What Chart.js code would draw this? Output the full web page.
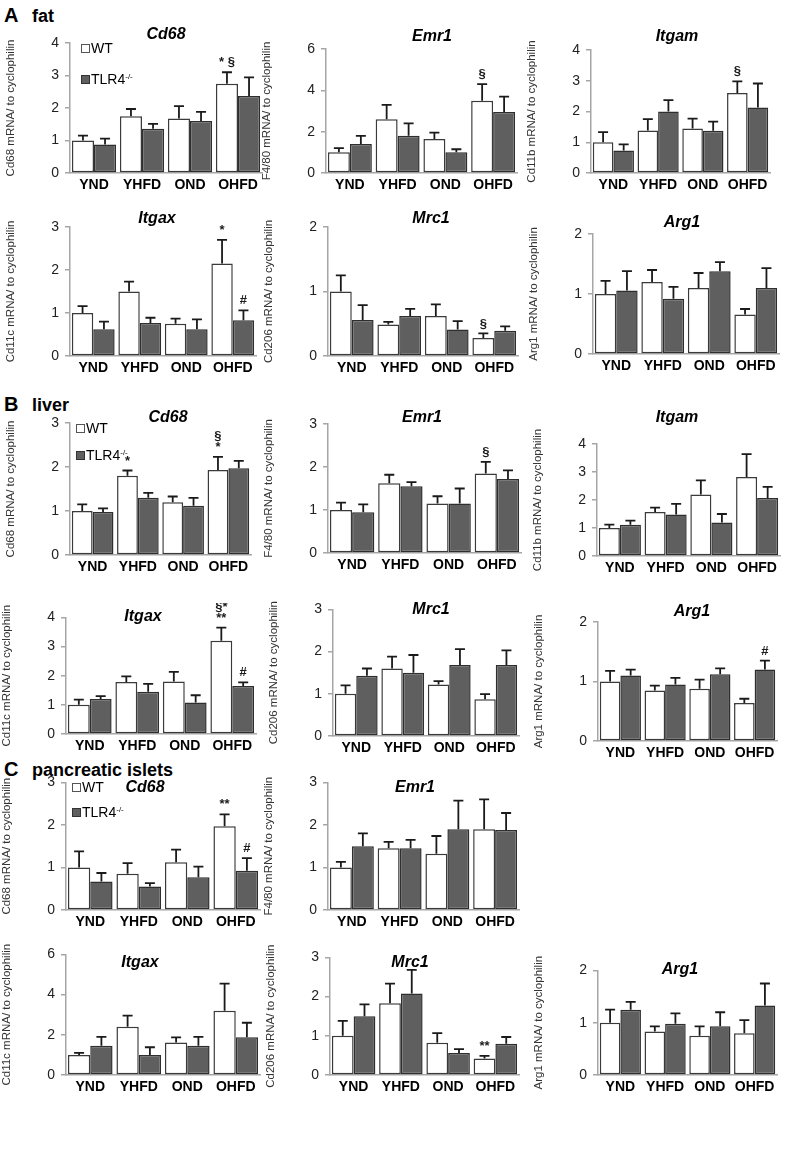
<!DOCTYPE html>
<html>
<head>
<meta charset="utf-8">
<script src="https://cdn.jsdelivr.net/npm/chart.js@4.4.1/dist/chart.umd.min.js"></script>
<style>
  body { margin: 0; background: #fff; width: 794px; height: 1150px; position: relative; overflow: hidden;
         font-family: "Liberation Sans", Arial, sans-serif; }
  canvas { position: absolute; }
  .sec { position: absolute; font-weight: bold; font-size: 18px; color: #000; }
  .sec b { display: inline-block; width: 28px; font-size: 20px; }
  .leg { position: absolute; font-size: 14px; color: #000; line-height: 14px; white-space: nowrap; }
  .leg i { display: inline-block; width: 7px; height: 7px; border: 1px solid #555; margin-right: 1px; }
  .leg sup { font-size: 8px; vertical-align: 5px; }
</style>
</head>
<body>

<div class="sec" style="left:4px;top:4px"><b>A</b>fat</div>
<div class="sec" style="left:4px;top:393px"><b>B</b>liver</div>
<div class="sec" style="left:4px;top:758px"><b>C</b>pancreatic islets</div>

<script>
const groups = ["YND", "YHFD", "OND", "OHFD"];

// A fat
const fatCd68WT = [1.0, 1.75, 1.68, 2.75];
const fatCd68KO = [0.88, 1.36, 1.6, 2.37];
const fatCd68WTErr = [0.15, 0.22, 0.38, 0.35];
const fatCd68KOErr = [0.18, 0.15, 0.28, 0.57];
const fatCd68WTSig = ["", "", "", "* §"];

const fatEmr1WT = [1.0, 2.6, 1.65, 3.5];
const fatEmr1KO = [1.4, 1.8, 1.0, 2.95];
const fatEmr1WTErr = [0.2, 0.7, 0.3, 0.8];
const fatEmr1KOErr = [0.4, 0.6, 0.15, 0.75];
const fatEmr1WTSig = ["", "", "", "§"];

const fatItgamWT = [1.0, 1.38, 1.45, 2.6];
const fatItgamKO = [0.73, 2.0, 1.37, 2.13];
const fatItgamWTErr = [0.33, 0.37, 0.32, 0.38];
const fatItgamKOErr = [0.2, 0.37, 0.3, 0.78];
const fatItgamWTSig = ["", "", "", "§"];

const fatItgaxWT = [1.0, 1.5, 0.75, 2.15];
const fatItgaxKO = [0.62, 0.77, 0.62, 0.83];
const fatItgaxWTErr = [0.16, 0.23, 0.12, 0.55];
const fatItgaxKOErr = [0.18, 0.12, 0.23, 0.23];
const fatItgaxWTSig = ["", "", "", "*"];
const fatItgaxKOSig = ["", "", "", "#"];

const fatMrc1WT = [1.0, 0.49, 0.62, 0.28];
const fatMrc1KO = [0.56, 0.62, 0.41, 0.39];
const fatMrc1WTErr = [0.25, 0.04, 0.18, 0.07];
const fatMrc1KOErr = [0.23, 0.11, 0.13, 0.07];
const fatMrc1WTSig = ["", "", "", "§"];

const fatArg1WT = [1.0, 1.2, 1.1, 0.66];
const fatArg1KO = [1.06, 0.92, 1.38, 1.1];
const fatArg1WTErr = [0.22, 0.2, 0.25, 0.09];
const fatArg1KOErr = [0.32, 0.2, 0.15, 0.33];

// B liver
const livCd68WT = [1.0, 1.8, 1.2, 1.93];
const livCd68KO = [0.98, 1.3, 1.12, 1.97];
const livCd68WTErr = [0.15, 0.12, 0.13, 0.3];
const livCd68KOErr = [0.08, 0.11, 0.18, 0.17];
const livCd68WTSig = ["", "*", "", "§\n*"];

const livEmr1WT = [1.0, 1.62, 1.15, 1.85];
const livEmr1KO = [0.95, 1.55, 1.15, 1.72];
const livEmr1WTErr = [0.17, 0.2, 0.17, 0.27];
const livEmr1KOErr = [0.18, 0.1, 0.35, 0.2];
const livEmr1WTSig = ["", "", "", "§"];

const livItgamWT = [1.0, 1.57, 2.2, 2.82];
const livItgamKO = [1.12, 1.48, 1.2, 2.07];
const livItgamWTErr = [0.12, 0.16, 0.5, 0.82];
const livItgamKOErr = [0.14, 0.38, 0.3, 0.4];

const livItgaxWT = [1.0, 1.78, 1.8, 3.2];
const livItgaxKO = [1.2, 1.45, 1.08, 1.65];
const livItgaxWTErr = [0.18, 0.2, 0.33, 0.45];
const livItgaxKOErr = [0.1, 0.27, 0.25, 0.12];
const livItgaxWTSig = ["", "", "", "§*\n**"];
const livItgaxKOSig = ["", "", "", "#"];

const livMrc1WT = [1.0, 1.6, 1.22, 0.87];
const livMrc1KO = [1.43, 1.5, 1.68, 1.68];
const livMrc1WTErr = [0.2, 0.28, 0.08, 0.12];
const livMrc1KOErr = [0.17, 0.42, 0.38, 0.35];

const livArg1WT = [1.0, 0.85, 0.88, 0.64];
const livArg1KO = [1.1, 0.95, 1.12, 1.2];
const livArg1WTErr = [0.18, 0.08, 0.15, 0.07];
const livArg1KOErr = [0.1, 0.11, 0.1, 0.15];
const livArg1KOSig = ["", "", "", "#"];

// C pancreatic islets
const islCd68WT = [1.0, 0.85, 1.12, 1.97];
const islCd68KO = [0.67, 0.55, 0.77, 0.92];
const islCd68WTErr = [0.38, 0.25, 0.3, 0.28];
const islCd68KOErr = [0.2, 0.08, 0.25, 0.3];
const islCd68WTSig = ["", "", "", "**"];
const islCd68KOSig = ["", "", "", "#"];

const islEmr1WT = [1.0, 1.45, 1.32, 1.9];
const islEmr1KO = [1.5, 1.45, 1.9, 1.88];
const islEmr1WTErr = [0.13, 0.15, 0.42, 0.7];
const islEmr1KOErr = [0.3, 0.2, 0.67, 0.4];

const islItgaxWT = [1.0, 2.4, 1.62, 3.2];
const islItgaxKO = [1.45, 1.0, 1.45, 1.88];
const islItgaxWTErr = [0.1, 0.55, 0.25, 1.35];
const islItgaxKOErr = [0.45, 0.38, 0.45, 0.72];

const islMrc1WT = [1.0, 1.83, 0.82, 0.42];
const islMrc1KO = [1.5, 2.08, 0.56, 0.8];
const islMrc1WTErr = [0.38, 0.5, 0.25, 0.07];
const islMrc1KOErr = [0.3, 0.6, 0.1, 0.17];
const islMrc1WTSig = ["", "", "", "**"];

const islArg1WT = [1.0, 0.83, 0.75, 0.8];
const islArg1KO = [1.25, 0.98, 0.93, 1.33];
const islArg1WTErr = [0.25, 0.1, 0.18, 0.25];
const islArg1KOErr = [0.15, 0.2, 0.27, 0.42];

const none = ["", "", "", ""];

// layout: axis x, right end, y of top tick, y of zero, title centre
const panels = [
  { title: "Cd68",  ylab: "Cd68 mRNA/ to cyclophilin",  max: 4, step: 1, ax: 70,  right: 262, top: 43,  zero: 173, tx: 166, ty: 35,  legend: [81, 41, 70],
    wt: fatCd68WT, ko: fatCd68KO, wtErr: fatCd68WTErr, koErr: fatCd68KOErr, wtSig: fatCd68WTSig, koSig: none },
  { title: "Emr1",  ylab: "F4/80 mRNA/ to cyclophilin", max: 6, step: 2, ax: 326, right: 517, top: 49,  zero: 173, tx: 432, ty: 37,
    wt: fatEmr1WT, ko: fatEmr1KO, wtErr: fatEmr1WTErr, koErr: fatEmr1KOErr, wtSig: fatEmr1WTSig, koSig: none },
  { title: "Itgam", ylab: "Cd11b mRNA/ to cyclophilin", max: 4, step: 1, ax: 591, right: 770, top: 50,  zero: 173, tx: 677, ty: 37,
    wt: fatItgamWT, ko: fatItgamKO, wtErr: fatItgamWTErr, koErr: fatItgamKOErr, wtSig: fatItgamWTSig, koSig: none },
  { title: "Itgax", ylab: "Cd11c mRNA/ to cyclophilin", max: 3, step: 1, ax: 70,  right: 256, top: 227, zero: 356, tx: 157, ty: 219,
    wt: fatItgaxWT, ko: fatItgaxKO, wtErr: fatItgaxWTErr, koErr: fatItgaxKOErr, wtSig: fatItgaxWTSig, koSig: fatItgaxKOSig },
  { title: "Mrc1",  ylab: "Cd206 mRNA/ to cyclophilin", max: 2, step: 1, ax: 328, right: 518, top: 227, zero: 356, tx: 431, ty: 219,
    wt: fatMrc1WT, ko: fatMrc1KO, wtErr: fatMrc1WTErr, koErr: fatMrc1KOErr, wtSig: fatMrc1WTSig, koSig: none },
  { title: "Arg1",  ylab: "Arg1 mRNA/ to cyclophilin",  max: 2, step: 1, ax: 593, right: 779, top: 234, zero: 354, tx: 682, ty: 223,
    wt: fatArg1WT, ko: fatArg1KO, wtErr: fatArg1WTErr, koErr: fatArg1KOErr, wtSig: none, koSig: none },

  { title: "Cd68",  ylab: "Cd68 mRNA/ to cyclophilin",  max: 3, step: 1, ax: 70,  right: 251, top: 423, zero: 555, tx: 168, ty: 418, legend: [76, 421, 446],
    wt: livCd68WT, ko: livCd68KO, wtErr: livCd68WTErr, koErr: livCd68KOErr, wtSig: livCd68WTSig, koSig: none },
  { title: "Emr1",  ylab: "F4/80 mRNA/ to cyclophilin", max: 3, step: 1, ax: 328, right: 521, top: 424, zero: 553, tx: 422, ty: 418,
    wt: livEmr1WT, ko: livEmr1KO, wtErr: livEmr1WTErr, koErr: livEmr1KOErr, wtSig: livEmr1WTSig, koSig: none },
  { title: "Itgam", ylab: "Cd11b mRNA/ to cyclophilin", max: 4, step: 1, ax: 597, right: 780, top: 444, zero: 556, tx: 677, ty: 418,
    wt: livItgamWT, ko: livItgamKO, wtErr: livItgamWTErr, koErr: livItgamKOErr, wtSig: none, koSig: none },
  { title: "Itgax", ylab: "Cd11c mRNA/ to cyclophilin", max: 4, step: 1, ax: 66,  right: 256, top: 617, zero: 734, tx: 143, ty: 617,
    wt: livItgaxWT, ko: livItgaxKO, wtErr: livItgaxWTErr, koErr: livItgaxKOErr, wtSig: livItgaxWTSig, koSig: livItgaxKOSig },
  { title: "Mrc1",  ylab: "Cd206 mRNA/ to cyclophilin", max: 3, step: 1, ax: 333, right: 519, top: 605, zero: 736, tx: 431, ty: 610,
    wt: livMrc1WT, ko: livMrc1KO, wtErr: livMrc1WTErr, koErr: livMrc1KOErr, wtSig: none, koSig: none },
  { title: "Arg1",  ylab: "Arg1 mRNA/ to cyclophilin",  max: 2, step: 1, ax: 598, right: 777, top: 622, zero: 741, tx: 692, ty: 612,
    wt: livArg1WT, ko: livArg1KO, wtErr: livArg1WTErr, koErr: livArg1KOErr, wtSig: none, koSig: livArg1KOSig },

  { title: "Cd68",  ylab: "Cd68 mRNA/ to cyclophilin",  max: 3, step: 1, ax: 66,  right: 260, top: 778, zero: 910, tx: 145, ty: 788, legend: [72, 780, 803],
    wt: islCd68WT, ko: islCd68KO, wtErr: islCd68WTErr, koErr: islCd68KOErr, wtSig: islCd68WTSig, koSig: islCd68KOSig },
  { title: "Emr1",  ylab: "F4/80 mRNA/ to cyclophilin", max: 3, step: 1, ax: 328, right: 519, top: 778, zero: 910, tx: 415, ty: 788,
    wt: islEmr1WT, ko: islEmr1KO, wtErr: islEmr1WTErr, koErr: islEmr1KOErr, wtSig: none, koSig: none },
  { title: "Itgax", ylab: "Cd11c mRNA/ to cyclophilin", max: 6, step: 2, ax: 66,  right: 260, top: 950, zero: 1075, tx: 140, ty: 963,
    wt: islItgaxWT, ko: islItgaxKO, wtErr: islItgaxWTErr, koErr: islItgaxKOErr, wtSig: none, koSig: none },
  { title: "Mrc1",  ylab: "Cd206 mRNA/ to cyclophilin", max: 3, step: 1, ax: 330, right: 519, top: 953, zero: 1075, tx: 410, ty: 963,
    wt: islMrc1WT, ko: islMrc1KO, wtErr: islMrc1WTErr, koErr: islMrc1KOErr, wtSig: islMrc1WTSig, koSig: none },
  { title: "Arg1",  ylab: "Arg1 mRNA/ to cyclophilin",  max: 2, step: 1, ax: 598, right: 777, top: 967, zero: 1075, tx: 680, ty: 970,
    wt: islArg1WT, ko: islArg1KO, wtErr: islArg1WTErr, koErr: islArg1KOErr, wtSig: none, koSig: none },
];

const FONT = '"Liberation Sans", Arial, sans-serif';

// error bars (upper only) + significance marks
const errorBars = {
  id: "errorBars",
  afterDatasetsDraw(chart) {
    const ctx = chart.ctx;
    const y = chart.scales.y;
    chart.data.datasets.forEach((ds, i) => {
      chart.getDatasetMeta(i).data.forEach((bar, j) => {
        const top = y.getPixelForValue(ds.data[j] + ds.errors[j]);
        ctx.save();
        ctx.strokeStyle = "#1a1a1a";
        ctx.lineWidth = 1.8;
        ctx.beginPath();
        ctx.moveTo(bar.x, bar.y);
        ctx.lineTo(bar.x, top);
        ctx.moveTo(bar.x - 5, top);
        ctx.lineTo(bar.x + 5, top);
        ctx.stroke();
        const mark = ds.marks[j];
        if (mark) {
          ctx.fillStyle = "#1a1a1a";
          ctx.font = "bold 13px " + FONT;
          ctx.textAlign = "center";
          ctx.textBaseline = "bottom";
          mark.split("\n").reverse().forEach((t, k) => ctx.fillText(t, bar.x, top - 3 - k * 11));
        }
        ctx.restore();
      });
    });
  }
};

const panelTitle = {
  id: "panelTitle",
  afterDraw(chart, args, opts) {
    const ctx = chart.ctx;
    ctx.save();
    ctx.font = "italic bold 16px " + FONT;
    ctx.fillStyle = "#000";
    ctx.textAlign = "center";
    ctx.textBaseline = "middle";
    ctx.fillText(opts.text, opts.x, opts.y);
    ctx.restore();
  }
};

panels.forEach((p) => {
  const left = p.ax - 66;
  const ctop = Math.min(p.ty - 14, p.top - 10);
  const width = p.right - p.ax + 66 + 6;
  const height = p.zero - ctop + 24;

  const cv = document.createElement("canvas");
  cv.width = width;
  cv.height = height;
  cv.style.left = left + "px";
  cv.style.top = ctop + "px";
  document.body.appendChild(cv);

  new Chart(cv, {
    type: "bar",
    data: {
      labels: groups,
      datasets: [
        { label: "WT", data: p.wt, errors: p.wtErr, marks: p.wtSig,
          backgroundColor: "#ffffff", borderColor: "#3a3a3a", borderWidth: 1.5, borderSkipped: false,
          categoryPercentage: 0.92, barPercentage: 1.0 },
        { label: "TLR4-/-", data: p.ko, errors: p.koErr, marks: p.koSig,
          backgroundColor: "#5f5f5f", borderColor: "#2e2e2e", borderWidth: 1.5, borderSkipped: false,
          categoryPercentage: 0.92, barPercentage: 1.0 },
      ],
    },
    options: {
      responsive: false,
      animation: false,
      layout: { padding: { top: p.top - ctop, right: 6, left: 0, bottom: 2 } },
      plugins: {
        legend: { display: false },
        tooltip: { enabled: false },
        panelTitle: { text: p.title, x: p.tx - left, y: p.ty - ctop },
      },
      scales: {
        x: {
          grid: { display: false, drawTicks: false },
          border: { display: true, color: "#a6a6a6", width: 1.5 },
          ticks: { color: "#000", padding: 4, maxRotation: 0, autoSkip: false,
                   font: { family: FONT, size: 14, weight: "bold" } },
          afterFit(s) { s.height = 22; },
        },
        y: {
          min: 0,
          max: p.max,
          ticks: { stepSize: p.step, color: "#222", padding: 6, font: { family: FONT, size: 14 } },
          grid: { drawOnChartArea: false, tickLength: 5, color: "#a6a6a6", lineWidth: 1.5 },
          border: { color: "#a6a6a6", width: 1.5 },
          title: { display: true, text: p.ylab, color: "#333", padding: { top: 0, bottom: 0 },
                   font: { family: FONT, size: 11.5 } },
          afterFit(s) { s.width = 66; },
        },
      },
    },
    plugins: [errorBars, panelTitle],
  });

  if (p.legend) {
    const [lx, y1, y2] = p.legend;
    const a = document.createElement("div");
    a.className = "leg";
    a.style.left = lx + "px";
    a.style.top = y1 + "px";
    a.innerHTML = '<i style="background:#fff"></i>WT';
    document.body.appendChild(a);
    const b = document.createElement("div");
    b.className = "leg";
    b.style.left = lx + "px";
    b.style.top = y2 + "px";
    b.innerHTML = '<i style="background:#5f5f5f;border-color:#333"></i>TLR4<sup>-/-</sup>';
    document.body.appendChild(b);
  }
});
</script>
</body>
</html>
